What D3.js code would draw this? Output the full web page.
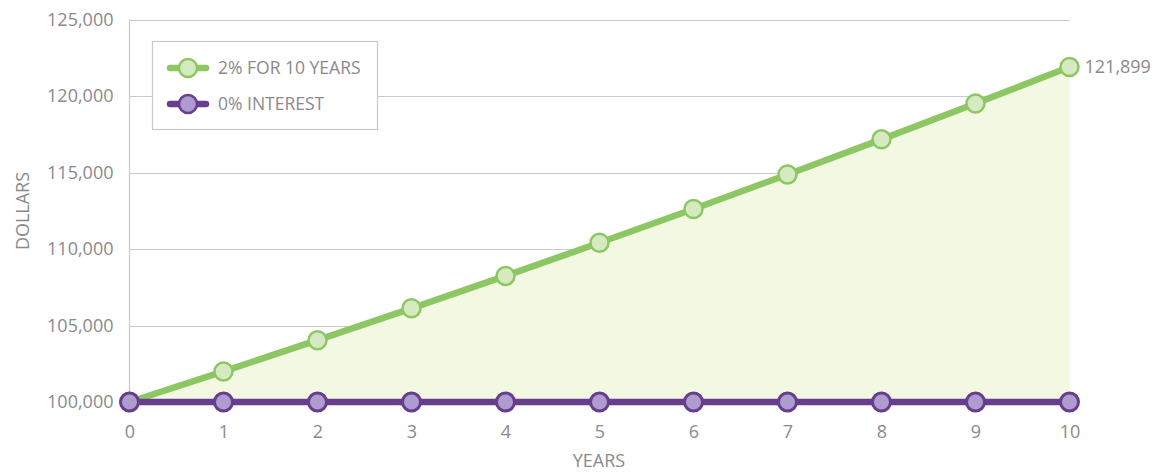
<!DOCTYPE html>
<html>
<head>
<meta charset="utf-8">
<script src="https://cdn.jsdelivr.net/npm/d3@7"></script>
<style>
  body { margin: 0; background: #fff; }
  text { font-family: "Open Sans", "Noto Sans", sans-serif; fill: #8a8a8c; }
</style>
</head>
<body>
<script>
// values
const years = [0, 1, 2, 3, 4, 5, 6, 7, 8, 9, 10];
const withInterest = [100000, 102000, 104040, 106121, 108243, 110408, 112616, 114869, 117166, 119509, 121899];
const noInterest = [100000, 100000, 100000, 100000, 100000, 100000, 100000, 100000, 100000, 100000, 100000];
const yTicks = [100000, 105000, 110000, 115000, 120000, 125000];
const seriesNames = ["2% FOR 10 YEARS", "0% INTEREST"];

const W = 1162, H = 473;
const green = "#8cc764", greenFill = "#d6eac2";
const purple = "#673d8e", purpleFill = "#af9ccf";

const svg = d3.select("body").append("svg")
  .attr("width", W).attr("height", H);

const x = d3.scaleLinear().domain([0, 10]).range([129.5, 1069.5]);
const y = d3.scaleLinear().domain([100000, 125000]).range([402, 19.5]);

// grid
svg.append("g").selectAll("line")
  .data(yTicks)
  .enter().append("line")
  .attr("x1", x(0)).attr("x2", x(10))
  .attr("y1", d => Math.round(y(d)) + 0.5).attr("y2", d => Math.round(y(d)) + 0.5)
  .attr("stroke", "#c9c9cd").attr("stroke-width", 1.2);

svg.append("line")
  .attr("x1", x(0)).attr("x2", x(0))
  .attr("y1", y(125000)).attr("y2", y(100000))
  .attr("stroke", "#c9c9cd").attr("stroke-width", 1.2);

// area under the green line
const pts = years.map((d, i) => ({ x: d, y: withInterest[i], y0: noInterest[i] }));
svg.append("path")
  .datum(pts)
  .attr("fill", "#f3f8e3")
  .attr("d", d3.area().x(d => x(d.x)).y0(d => y(d.y0)).y1(d => y(d.y)));

// y axis labels
const yAxis = d3.axisLeft(y).tickValues(yTicks).tickSize(0).tickPadding(16)
  .tickFormat(d3.format(","));
const ga = svg.append("g").attr("transform", "translate(" + x(0) + ",0)").call(yAxis);
ga.select(".domain").remove();
ga.selectAll("text").attr("font-size", 18).attr("fill", "#8a8a8c")
  .style("font-family", "'Open Sans', sans-serif").attr("dy", "0.32em");

// x axis labels
const xAxis = d3.axisBottom(x).tickValues(years).tickSize(0).tickPadding(23)
  .tickFormat(d3.format("d"));
const gx = svg.append("g").attr("transform", "translate(0," + y(100000) + ")").call(xAxis);
gx.select(".domain").remove();
gx.selectAll("text").attr("font-size", 18).attr("fill", "#8a8a8c")
  .style("font-family", "'Open Sans', sans-serif");

// axis titles
svg.append("text").attr("x", 599).attr("y", 467)
  .attr("text-anchor", "middle").attr("font-size", 18).text("YEARS");
svg.append("text")
  .attr("transform", "translate(29,211) rotate(-90)")
  .attr("text-anchor", "middle").attr("font-size", 18).text("DOLLARS");

// lines
const line = d3.line().x((d, i) => x(years[i])).y(d => y(d));
svg.append("path").datum(withInterest)
  .attr("fill", "none").attr("stroke", green).attr("stroke-width", 6.5)
  .attr("d", line);
svg.append("path").datum(noInterest)
  .attr("fill", "none").attr("stroke", purple).attr("stroke-width", 6.5)
  .attr("d", line);

svg.append("g").selectAll("circle")
  .data(withInterest)
  .enter().append("circle")
  .attr("cx", (d, i) => x(years[i])).attr("cy", d => y(d)).attr("r", 9)
  .attr("fill", greenFill).attr("stroke", green).attr("stroke-width", 2.5);

svg.append("g").selectAll("circle")
  .data(noInterest)
  .enter().append("circle")
  .attr("cx", (d, i) => x(years[i])).attr("cy", d => y(d)).attr("r", 9)
  .attr("fill", purpleFill).attr("stroke", purple).attr("stroke-width", 3);

// end label
svg.append("text")
  .attr("x", x(10) + 15).attr("y", y(withInterest[10]) + 6)
  .attr("font-size", 18).text(d3.format(",")(withInterest[10]));

// legend
const lg = svg.append("g");
lg.append("rect").attr("x", 152.5).attr("y", 41.5).attr("width", 225).attr("height", 88)
  .attr("fill", "#fff").attr("stroke", "#c9c9cd").attr("stroke-width", 1.2);
const legColors = [[green, greenFill], [purple, purpleFill]];
seriesNames.forEach((name, i) => {
  const cy = 68 + i * 36;
  lg.append("line").attr("x1", 170).attr("x2", 206).attr("y1", cy).attr("y2", cy)
    .attr("stroke", legColors[i][0]).attr("stroke-width", 6.5).attr("stroke-linecap", "round");
  lg.append("circle").attr("cx", 188).attr("cy", cy).attr("r", 9)
    .attr("fill", legColors[i][1]).attr("stroke", legColors[i][0]).attr("stroke-width", 2.5);
  lg.append("text").attr("x", 218).attr("y", cy + 6).attr("font-size", 17.5).text(name);
});
</script>
</body>
</html>
